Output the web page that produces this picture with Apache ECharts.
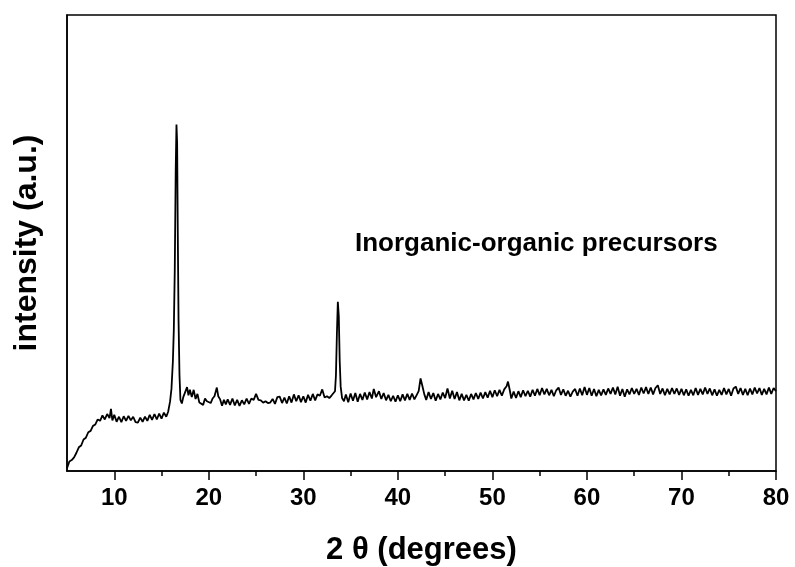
<!DOCTYPE html>
<html>
<head>
<meta charset="utf-8">
<title>XRD</title>
<script src="https://cdn.jsdelivr.net/npm/echarts@6/dist/echarts.min.js"></script>
<style>
  html, body { margin: 0; padding: 0; background: #fff; }
  #chart { width: 795px; height: 567px; }
</style>
</head>
<body>
<div id="chart"></div>
<script>
// 2θ positions (degrees) and intensity (a.u.)
var twoTheta = [
  5.0, 5.25, 5.5, 5.75, 6.0, 6.25, 6.5, 6.75, 7.0, 7.25, 7.5, 7.75, 8.0, 8.25, 8.5, 8.75, 9.0, 9.25, 9.5, 9.65, 9.8,
  10.0, 10.25, 10.5, 10.75, 11.0, 11.25, 11.5, 11.75, 12.0, 12.25, 12.5, 12.75, 13.0, 13.25, 13.5, 13.75,
  14.0, 14.25, 14.5, 14.75, 15.0, 15.25, 15.5, 15.7, 15.9, 16.05, 16.2, 16.3, 16.4, 16.5, 16.58, 16.65, 16.72, 16.8, 16.9,
  17.0, 17.15, 17.3, 17.5, 17.7, 17.85, 18.0, 18.2, 18.4, 18.6, 18.8, 19.0, 19.2, 19.4, 19.6, 19.8,
  20.0, 20.2, 20.4, 20.6, 20.85, 21.0, 21.2, 21.4, 21.6, 21.8, 22.0, 22.25, 22.5, 22.75, 23.0, 23.25, 23.5, 23.75,
  24.0, 24.25, 24.5, 24.75, 25.0, 25.25, 25.5, 25.75, 26.0, 26.25, 26.5, 26.75, 27.0, 27.25, 27.5, 27.75,
  28.0, 28.25, 28.5, 28.75, 29.0, 29.25, 29.5, 29.75, 30.0, 30.25, 30.5, 30.75, 31.0, 31.25, 31.5, 31.75,
  32.0, 32.25, 32.5, 32.75, 33.0, 33.2, 33.35, 33.45, 33.55, 33.65, 33.75, 33.85, 33.95, 34.1, 34.3, 34.5, 34.75,
  35.0, 35.25, 35.5, 35.75, 36.0, 36.25, 36.5, 36.75, 37.0, 37.25, 37.45, 37.7, 38.0, 38.25, 38.5, 38.75,
  39.0, 39.25, 39.5, 39.75, 40.0, 40.25, 40.5, 40.75, 41.0, 41.25, 41.5, 41.75, 42.0, 42.2, 42.4, 42.6, 42.8,
  43.0, 43.25, 43.5, 43.75, 44.0, 44.25, 44.5, 44.75, 45.0, 45.25, 45.5, 45.75, 46.0, 46.25, 46.5, 46.75,
  47.0, 47.25, 47.5, 47.75, 48.0, 48.25, 48.5, 48.75, 49.0, 49.25, 49.5, 49.75, 50.0, 50.25, 50.5, 50.75,
  51.0, 51.25, 51.5, 51.65, 51.85, 52.0, 52.25, 52.5, 52.75, 53.0, 53.25, 53.5, 53.75, 54.0, 54.25, 54.5, 54.75,
  55.0, 55.25, 55.5, 55.75, 56.0, 56.25, 56.5, 56.75, 57.0, 57.25, 57.5, 57.75, 58.0, 58.25, 58.5, 58.75,
  59.0, 59.25, 59.5, 59.75, 60.0, 60.25, 60.5, 60.75, 61.0, 61.25, 61.5, 61.75, 62.0, 62.25, 62.5, 62.75,
  63.0, 63.25, 63.5, 63.75, 64.0, 64.25, 64.5, 64.75, 65.0, 65.25, 65.5, 65.75, 66.0, 66.25, 66.5, 66.75,
  67.0, 67.25, 67.5, 67.75, 68.0, 68.25, 68.5, 68.75, 69.0, 69.25, 69.5, 69.75, 70.0, 70.25, 70.5, 70.75,
  71.0, 71.25, 71.5, 71.75, 72.0, 72.25, 72.5, 72.75, 73.0, 73.25, 73.5, 73.75, 74.0, 74.25, 74.5, 74.75,
  75.0, 75.25, 75.5, 75.75, 76.0, 76.25, 76.5, 76.75, 77.0, 77.25, 77.5, 77.75, 78.0, 78.25, 78.5, 78.75,
  79.0, 79.25, 79.5, 79.75, 80.0
];
var intensity = [
  0.6, 2.1, 2.4, 3.0, 4.0, 5.2, 5.6, 6.9, 7.3, 8.5, 8.8, 9.9, 10.2, 11.3, 11.0, 12.2, 11.3, 12.5, 11.6, 13.6, 11.1,
  12.3, 10.8, 11.9, 10.7, 12.0, 11.0, 12.1, 11.1, 11.9, 10.7, 10.6, 11.7, 10.8, 11.9, 11.0, 12.3,
  11.2, 12.5, 11.3, 12.6, 11.5, 12.8, 11.9, 13.0, 15.2, 18.0, 24.0, 31.0, 44.0, 66.0, 76.0, 72.0, 52.0, 33.0, 21.0,
  15.6, 14.8, 16.2, 16.0, 18.4, 16.6, 17.8, 16.2, 17.8, 15.8, 16.9, 15.0, 15.4, 14.5, 15.9, 15.3,
  15.5, 14.9, 15.9, 16.4, 18.3, 16.4, 15.7, 14.3, 15.6, 14.6, 15.7, 14.5, 15.9, 14.4, 15.6, 14.3, 15.5, 14.6,
  15.9, 14.7, 15.9, 15.6, 16.9, 15.6, 15.5, 15.0, 15.3, 14.9, 15.0, 15.8, 14.7, 16.2, 16.3, 14.9,
  16.1, 14.8, 16.4, 15.0, 16.8, 15.3, 16.6, 15.1, 16.4, 15.0, 16.7, 15.4, 16.9, 15.5, 16.8, 16.5,
  17.9, 16.1, 16.4, 16.0, 16.6, 16.2, 17.5, 21.0, 30.0, 37.1, 34.0, 24.0, 18.5, 16.0, 15.3, 16.8, 15.1,
  17.0, 15.4, 17.1, 15.2, 16.9, 15.6, 17.2, 15.7, 17.3, 15.9, 18.0, 16.2, 17.5, 15.8, 17.1, 15.5,
  16.7, 15.3, 16.5, 15.2, 16.6, 15.3, 16.8, 15.5, 16.9, 15.6, 17.0, 15.7, 16.7, 17.5, 20.3, 18.6, 16.8,
  15.6, 17.3, 15.8, 17.1, 15.4, 16.9, 15.7, 17.2, 16.0, 18.1, 15.9, 17.6, 15.8, 17.3, 15.5, 16.9,
  15.5, 16.7, 15.4, 16.9, 15.7, 17.1, 15.8, 17.2, 15.9, 17.3, 16.1, 17.6, 16.2, 17.7, 16.4, 17.8,
  16.5, 17.9, 18.6, 19.6, 17.6, 15.9, 17.4, 16.0, 17.5, 16.2, 17.7, 16.4, 17.6, 16.3, 17.8, 16.5, 18.0,
  16.6, 18.2, 16.8, 18.0, 16.6, 17.8, 16.4, 17.7, 18.3, 16.7, 17.9, 16.5, 17.6, 16.3, 17.4, 18.0,
  16.5, 18.1, 16.6, 18.4, 16.7, 18.2, 16.5, 18.0, 16.4, 17.8, 16.6, 17.9, 16.7, 18.1, 16.9, 18.3,
  16.8, 18.5, 16.5, 18.0, 16.3, 17.9, 16.8, 18.2, 16.9, 18.0, 16.7, 18.3, 17.0, 18.4, 16.9, 18.3,
  16.8, 18.2, 18.8, 16.9, 18.1, 16.6, 18.0, 16.8, 18.2, 16.9, 18.1, 16.7, 18.0, 16.6, 17.9, 16.5,
  17.8, 16.6, 18.2, 16.7, 18.0, 16.8, 18.3, 16.9, 18.1, 16.6, 17.9, 16.5, 17.8, 16.7, 18.2, 16.8,
  18.0, 16.5, 18.1, 18.5, 16.9, 18.2, 16.7, 18.0, 16.6, 18.1, 16.8, 18.3, 17.0, 18.2, 16.7, 18.0,
  16.8, 18.3, 16.9, 18.2, 17.5
];
var majorTicks = [10, 20, 30, 40, 50, 60, 70, 80];
var minorTicks = [15, 25, 35, 45, 55, 65, 75];
var xName = '2 θ (degrees)';
var yName = 'intensity (a.u.)';
var noteText = 'Inorganic-organic precursors';

var myChart = echarts.init(document.getElementById('chart'), null, { renderer: 'canvas' });

var scan = twoTheta.map(function (t, i) { return [t, intensity[i]]; });
var fontFam = '"Liberation Sans", Arial, sans-serif';

var option = {
  backgroundColor: '#fff',
  animation: false,
  title: {
    text: noteText,
    left: 350,
    top: 226,
    textStyle: { fontFamily: fontFam, fontWeight: 'bold', fontSize: 26, color: '#000' }
  },
  grid: {
    left: 67, right: 19, top: 15, bottom: 96,
    show: true, borderColor: '#000', borderWidth: 1.5,
    containLabel: false,
    outerBoundsMode: 'none'
  },
  xAxis: [
    {
      type: 'value', min: 5, max: 80,
      name: xName, nameLocation: 'middle', nameGap: 64,
      nameTextStyle: { fontFamily: fontFam, fontWeight: 'bold', fontSize: 31, color: '#000' },
      axisLine: { show: true, lineStyle: { color: '#000', width: 1.5 } },
      axisTick: { show: true, length: 9, customValues: majorTicks, lineStyle: { color: '#000', width: 1.5 } },
      axisLabel: { customValues: majorTicks, margin: 15, fontFamily: fontFam, fontWeight: 'bold', fontSize: 24, color: '#000' },
      splitLine: { show: false }
    },
    {
      type: 'value', min: 5, max: 80, position: 'bottom',
      axisLine: { show: false },
      axisTick: { show: true, length: 5, customValues: minorTicks, lineStyle: { color: '#000', width: 1.5 } },
      axisLabel: { show: false },
      splitLine: { show: false }
    }
  ],
  yAxis: {
    type: 'value', min: 0, max: 100,
    name: yName, nameLocation: 'middle', nameGap: 24,
    nameTextStyle: { fontFamily: fontFam, fontWeight: 'bold', fontSize: 32, color: '#000' },
    axisLine: { show: true, lineStyle: { color: '#000', width: 1.5 } },
    axisTick: { show: false },
    axisLabel: { show: false },
    splitLine: { show: false }
  },
  series: [{
    type: 'line',
    data: scan,
    showSymbol: false,
    symbol: 'none',
    lineStyle: { color: '#000', width: 1.8 }
  }]
};
myChart.setOption(option);
</script>
</body>
</html>
